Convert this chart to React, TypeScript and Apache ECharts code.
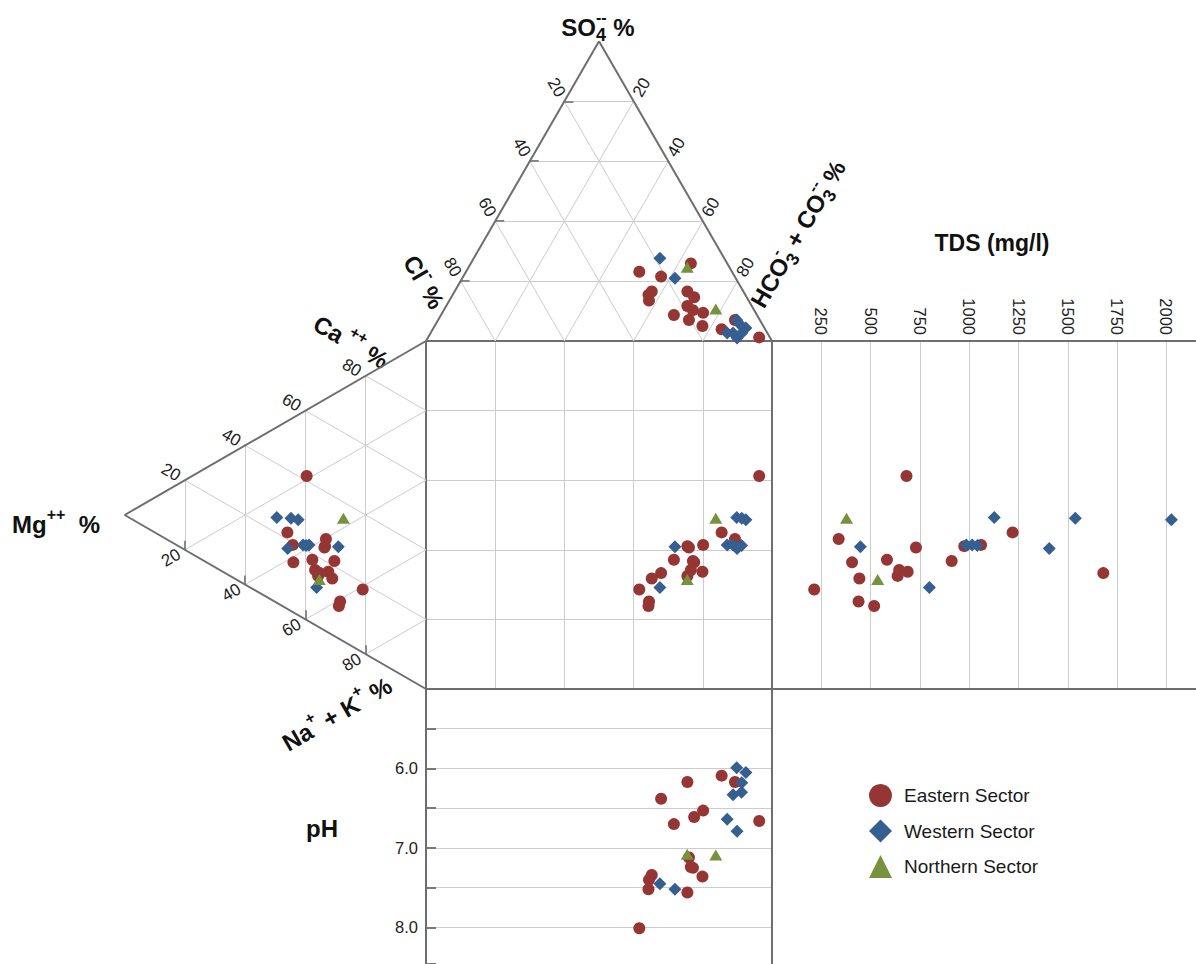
import React, { useEffect, useRef } from "react";
import * as echarts from "echarts";

const FONT = '"Liberation Sans", Arial, Helvetica, sans-serif';

// ---------- DATA ----------
const sectorNames = ["Eastern Sector", "Western Sector", "Northern Sector"];

// Anions (% meq): [Cl-, SO4--, HCO3- + CO3--]
const easternAnions = [
  [3.1, 1.2, 95.7], [12.6, 3.9, 83.5], [7.2, 7.0, 85.8], [15.2, 9.4, 75.4],
  [20.5, 7.0, 72.5], [16.2, 16.5, 67.3], [24.0, 8.7, 67.3], [17.7, 10.3, 72.0],
  [15.2, 14.6, 70.2], [10.5, 25.9, 63.6], [17.6, 5.0, 77.4], [21.3, 21.5, 57.2],
  [18.6, 11.7, 69.7], [26.5, 16.5, 57.0], [26.8, 23.1, 50.1], [28.8, 13.5, 57.7],
  [28.0, 15.4, 56.6],
];
// Cations (% meq): [Ca++, Mg++, Na+ + K+]
const easternCations = [
  [41.4, 39.6, 19.0], [22.0, 46.0, 32.0], [26.5, 33.2, 40.3], [19.3, 44.2, 36.5],
  [23.8, 33.7, 42.5], [24.3, 33.5, 42.2], [18.3, 37.7, 44.0], [21.6, 30.4, 48.0],
  [14.4, 44.0, 41.6], [15.8, 36.8, 47.4], [17.5, 32.4, 50.1], [15.7, 35.2, 49.1],
  [14.6, 35.8, 49.6], [16.2, 31.1, 52.7], [18.1, 21.0, 60.9], [10.9, 28.5, 60.6],
  [9.4, 28.9, 61.7],
];
const easternTDS = [682, 1220, 338, 1060, 730, 975, 583, 911, 406, 645, 688, 1680, 637, 443, 214, 439, 518];
const easternPH = [6.66, 6.09, 6.17, 6.53, 7.12, 6.17, 6.7, 7.25, 6.61, 7.24, 7.36, 6.38, 7.56, 7.34, 8.01, 7.4, 7.52];

const westernAnions = [
  [18.6, 27.6, 53.8], [17.6, 20.9, 61.5], [11.6, 2.7, 85.7], [9.9, 2.7, 87.4],
  [9.6, 1.0, 89.4], [6.3, 5.0, 88.7], [6.7, 7.0, 86.3], [7.4, 2.7, 89.9], [5.4, 4.3, 90.3],
];
const westernCations = [
  [11.0, 36.3, 52.7], [26.3, 29.1, 44.6], [21.0, 40.8, 38.2], [22.0, 38.8, 39.2],
  [17.4, 45.9, 36.7], [21.3, 39.8, 38.9], [24.5, 49.5, 26.0], [26.7, 44.8, 28.5], [27.4, 42.4, 30.2],
];
const westernTDS = [798, 448, 985, 1015, 1406, 1041, 1127, 1538, 2025];
const westernPH = [7.45, 7.52, 6.64, 6.33, 6.79, 6.3, 5.99, 6.18, 6.05];

const northernAnions = [[10.9, 10.7, 78.4], [12.2, 24.6, 63.2]];
const northernCations = [[35.4, 27.4, 37.2], [13.8, 35.4, 50.8]];
const northernTDS = [378, 536];
const northernPH = [7.09, 7.08];

const triTicks = [20, 40, 60, 80];
const tdsStep = 250;
const phStep = 0.5;
const phLabelled = [6, 7, 8];

// ---------- STYLE / LAYOUT ----------
const COLORS = ["#963634", "#365F91", "#76923C"];
const SYMBOLS = ["circle", "diamond", "triangle"];
const SIZES: any[] = [12, 13, [13, 11]];
const BORDER = "#6e6e6e";
const GRIDC = "#cccccc";
const TXT = "#111111";

const PAGE_W = 1196, PAGE_H = 964;
const SQ_L = 426, SQ_T = 341, SQ_W = 346, SQ_H = 348;
const TOP_H = (SQ_W * Math.sqrt(3)) / 2;
const LEFT_W = (SQ_H * Math.sqrt(3)) / 2;
const TDS_MAX = 2150;
const PH_MIN = 5, PH_MAX = 8.46;

const topPx = (u: number, s: number) => [SQ_L + (u / 100) * SQ_W, SQ_T - (s / 100) * TOP_H];
const leftPx = (mg: number, v: number) => [SQ_L - (mg / 100) * LEFT_W, SQ_T + (v / 100) * SQ_H];

let ctx: CanvasRenderingContext2D | null = null;
function textWidth(t: string, size: number, bold = true) {
  if (!ctx) ctx = document.createElement("canvas").getContext("2d");
  if (!ctx) return t.length * size * 0.6;
  ctx.font = `${bold ? "bold " : ""}${size}px ${FONT}`;
  return ctx.measureText(t).width;
}

type Part = { t: string; size: number; dy: number; stack?: boolean };
function composite(cx: number, cy: number, rot: number, parts: Part[]) {
  let x = 0, prevX = 0, prevW = 0;
  const items: any[] = [];
  for (const p of parts) {
    const w = textWidth(p.t, p.size);
    let px: number;
    if (p.stack) {
      px = prevX;
      const adv = Math.max(prevW, w);
      x = prevX + adv;
      prevW = adv;
    } else {
      px = x;
      prevX = x;
      prevW = w;
      x += w;
    }
    items.push({
      type: "text",
      x: px,
      y: p.dy,
      style: {
        text: p.t, fontSize: p.size, fontWeight: "bold", fontFamily: FONT, fill: TXT,
        align: "left", verticalAlign: "middle", textAlign: "left", textVerticalAlign: "middle",
      },
    });
  }
  items.forEach((it) => (it.x -= x / 2));
  return { type: "group", x: cx, y: cy, rotation: rot, children: items, z: 10, silent: true };
}

function tickText(x: number, y: number, rot: number, t: string) {
  return {
    type: "text", x, y, rotation: rot, z: 10, silent: true,
    style: {
      text: t, fontSize: 17, fontFamily: FONT, fill: "#222",
      align: "center", verticalAlign: "middle", textAlign: "center", textVerticalAlign: "middle",
    },
  };
}

function hline(x1: number, x2: number, y: number) {
  return { type: "line", z: 1, silent: true, shape: { x1, y1: y, x2, y2: y }, style: { stroke: BORDER, lineWidth: 2 } };
}
function vline(x: number, y1: number, y2: number) {
  return { type: "line", z: 1, silent: true, shape: { x1: x, y1, x2: x, y2 }, style: { stroke: BORDER, lineWidth: 2 } };
}

function buildOption() {
  const sectors = [
    { a: easternAnions, c: easternCations, tds: easternTDS, ph: easternPH },
    { a: westernAnions, c: westernCations, tds: westernTDS, ph: westernPH },
    { a: northernAnions, c: northernCations, tds: northernTDS, ph: northernPH },
  ];
  const uOf = (a: number[]) => a[2] + a[1] / 2; // anion projection
  const vOf = (c: number[]) => c[2] + c[1] / 2; // cation projection

  const series: any[] = [];

  // triangle grid lines, outlines and edge ticks
  const topGridL: any[] = [], leftGridL: any[] = [], topTicksL: any[] = [], leftTicksL: any[] = [];
  triTicks.forEach((k) => {
    topGridL.push({ coords: [[k / 2, k], [100 - k / 2, k]] });
    topGridL.push({ coords: [[k, 0], [(100 + k) / 2, 100 - k]] });
    topGridL.push({ coords: [[100 - k, 0], [(100 - k) / 2, 100 - k]] });
    leftGridL.push({ coords: [[k, k / 2], [k, 100 - k / 2]] });
    leftGridL.push({ coords: [[0, k], [100 - k, (100 + k) / 2]] });
    leftGridL.push({ coords: [[0, 100 - k], [100 - k, (100 - k) / 2]] });
    topTicksL.push({ coords: [[k / 2, k], [k / 2 + 2.6, k]] });
    leftTicksL.push({ coords: [[k, 100 - k / 2], [k, 100 - k / 2 - 2.6]] });
  });
  const linesBase = { type: "lines", coordinateSystem: "cartesian2d", silent: true, polyline: false };
  series.push({ ...linesBase, xAxisIndex: 1, yAxisIndex: 1, z: 1, data: topGridL, lineStyle: { color: GRIDC, width: 1, opacity: 1 } });
  series.push({ ...linesBase, xAxisIndex: 2, yAxisIndex: 2, z: 1, data: leftGridL, lineStyle: { color: GRIDC, width: 1, opacity: 1 } });
  series.push({ ...linesBase, xAxisIndex: 1, yAxisIndex: 1, z: 2, data: topTicksL, lineStyle: { color: "#888", width: 2, opacity: 1 } });
  series.push({ ...linesBase, xAxisIndex: 2, yAxisIndex: 2, z: 2, data: leftTicksL, lineStyle: { color: "#888", width: 2, opacity: 1 } });
  series.push({
    ...linesBase, xAxisIndex: 1, yAxisIndex: 1, z: 2,
    data: [{ coords: [[0, 0], [50, 100]] }, { coords: [[50, 100], [100, 0]] }],
    lineStyle: { color: BORDER, width: 2, opacity: 1 },
  });
  series.push({
    ...linesBase, xAxisIndex: 2, yAxisIndex: 2, z: 2,
    data: [{ coords: [[0, 0], [100, 50]] }, { coords: [[100, 50], [0, 100]] }],
    lineStyle: { color: BORDER, width: 2, opacity: 1 },
  });

  sectors.forEach((s, i) => {
    const base = {
      type: "scatter", name: sectorNames[i], symbol: SYMBOLS[i], symbolSize: SIZES[i],
      itemStyle: { color: COLORS[i], opacity: 1 }, z: 5 + i, silent: true,
    };
    series.push({ ...base, xAxisIndex: 1, yAxisIndex: 1, data: s.a.map((a) => [uOf(a), a[1]]) });
    series.push({ ...base, xAxisIndex: 2, yAxisIndex: 2, data: s.c.map((c) => [c[1], vOf(c)]) });
    series.push({ ...base, xAxisIndex: 0, yAxisIndex: 0, data: s.a.map((a, j) => [uOf(a), vOf(s.c[j])]) });
    series.push({ ...base, xAxisIndex: 3, yAxisIndex: 3, data: s.tds.map((t, j) => [t, vOf(s.c[j])]) });
    series.push({ ...base, xAxisIndex: 4, yAxisIndex: 4, data: s.ph.map((p, j) => [uOf(s.a[j]), p]) });
  });

  const hidden = { type: "value", show: false, min: 0, max: 100 };
  const split = { show: true, lineStyle: { color: GRIDC, width: 1 } };
  const pctAxis = {
    type: "value", min: 0, max: 100, interval: 20,
    axisLine: { show: false }, axisTick: { show: false }, axisLabel: { show: false }, splitLine: split,
  };

  const graphic: any[] = [];
  // panel borders
  graphic.push(hline(SQ_L, PAGE_W, SQ_T));
  graphic.push(hline(SQ_L, PAGE_W, SQ_T + SQ_H));
  graphic.push(vline(SQ_L, SQ_T, PAGE_H));
  graphic.push(vline(SQ_L + SQ_W, SQ_T, PAGE_H));

  // triangle tick labels
  const d = 16;
  triTicks.forEach((k) => {
    let p = topPx((100 - k) / 2, 100 - k);
    graphic.push(tickText(p[0] - 0.5 * d, p[1] - 0.866 * d, -Math.PI / 3, String(k)));
    p = topPx((100 + k) / 2, 100 - k);
    graphic.push(tickText(p[0] + 0.5 * d, p[1] - 0.866 * d, Math.PI / 3, String(k)));
    p = leftPx(100 - k, (100 - k) / 2);
    graphic.push(tickText(p[0] - 0.866 * d, p[1] - 0.5 * d, -Math.PI / 6, String(k)));
    p = leftPx(100 - k, (100 + k) / 2);
    graphic.push(tickText(p[0] - 0.866 * d, p[1] + 0.5 * d, Math.PI / 6, String(k)));
  });

  // titles
  const B = 24, SUP = 16, SUB = 18;
  graphic.push(composite(598, 27, 0, [
    { t: "SO", size: B, dy: 0 }, { t: "4", size: SUB, dy: 8 }, { t: "--", size: SUP, dy: -10, stack: true }, { t: " %", size: B, dy: 0 },
  ]));
  graphic.push(composite(424, 282, -Math.PI / 3, [
    { t: "Cl", size: B, dy: 0 }, { t: "-", size: SUP, dy: -10 }, { t: " %", size: B, dy: 0 },
  ]));
  graphic.push(composite(798, 234, Math.PI / 3, [
    { t: "HCO", size: B, dy: 0 }, { t: "3", size: SUB, dy: 8 }, { t: "-", size: SUP, dy: -10, stack: true },
    { t: " + CO", size: B, dy: 0 }, { t: "3", size: SUB, dy: 8 }, { t: "--", size: SUP, dy: -10, stack: true },
    { t: " %", size: B, dy: 0 },
  ]));
  graphic.push(composite(351, 342, -Math.PI / 6, [
    { t: "Ca", size: B, dy: 0 }, { t: " ++", size: SUP, dy: -10 }, { t: " %", size: B, dy: 0 },
  ]));
  graphic.push(composite(337, 714, Math.PI / 6, [
    { t: "Na", size: B, dy: 0 }, { t: "+", size: SUP, dy: -10 }, { t: " + K", size: B, dy: 0 },
    { t: "+", size: SUP, dy: -10 }, { t: " %", size: B, dy: 0 },
  ]));
  graphic.push(composite(56, 524, 0, [
    { t: "Mg", size: B, dy: 0 }, { t: "++", size: SUP, dy: -10 }, { t: "  %", size: B, dy: 0 },
  ]));
  graphic.push(composite(992, 243, 0, [{ t: "TDS (mg/l)", size: 23, dy: 0 }]));
  graphic.push(composite(322, 828, 0, [{ t: "pH", size: 24, dy: 0 }]));

  return {
    animation: false,
    backgroundColor: "#ffffff",
    textStyle: { fontFamily: FONT },
    legend: {
      data: sectorNames,
      orient: "vertical",
      left: 864,
      top: 779,
      itemWidth: 23,
      itemHeight: 23,
      itemGap: 12.5,
      selectedMode: false,
      textStyle: { fontSize: 19, color: "#1a1a1a", fontFamily: FONT, padding: [0, 0, 0, 7] },
    },
    grid: [
      { left: SQ_L, top: SQ_T, width: SQ_W, height: SQ_H },
      { left: SQ_L, top: SQ_T - TOP_H, width: SQ_W, height: TOP_H },
      { left: SQ_L - LEFT_W, top: SQ_T, width: LEFT_W, height: SQ_H },
      { left: SQ_L + SQ_W, top: SQ_T, width: PAGE_W - SQ_L - SQ_W, height: SQ_H },
      { left: SQ_L, top: SQ_T + SQ_H, width: SQ_W, height: PAGE_H - SQ_T - SQ_H },
    ],
    xAxis: [
      { ...pctAxis, gridIndex: 0 },
      { ...hidden, gridIndex: 1 },
      { ...hidden, gridIndex: 2, inverse: true },
      {
        type: "value", gridIndex: 3, position: "top", min: 0, max: TDS_MAX, interval: tdsStep,
        axisLine: { show: false }, axisTick: { show: false }, splitLine: split,
        axisLabel: {
          rotate: -90, margin: 6, fontSize: 16.5, color: "#222", fontFamily: FONT,
          formatter: (v: number) => (v > 0 && v % tdsStep === 0 ? String(v) : ""),
        },
      },
      { ...hidden, gridIndex: 4 },
    ],
    yAxis: [
      { ...pctAxis, gridIndex: 0, inverse: true },
      { ...hidden, gridIndex: 1 },
      { ...hidden, gridIndex: 2, inverse: true },
      { ...hidden, gridIndex: 3, inverse: true },
      {
        type: "value", gridIndex: 4, min: PH_MIN, max: PH_MAX, interval: phStep, inverse: true,
        axisLine: { show: true, lineStyle: { color: BORDER, width: 2 } },
        axisTick: { show: true, inside: true, length: 10, lineStyle: { color: "#777", width: 2 } },
        splitLine: split,
        axisLabel: {
          fontSize: 16.5, color: "#222", fontFamily: FONT, margin: 8,
          formatter: (v: number) => (phLabelled.includes(Math.round(v * 100) / 100) ? v.toFixed(1) : ""),
        },
      },
    ],
    series,
    graphic,
  };
}

export default function App() {
  const ref = useRef<HTMLDivElement>(null);
  useEffect(() => {
    if (!ref.current) return;
    const chart = echarts.init(ref.current, undefined, { renderer: "svg" });
    chart.setOption(buildOption() as any);
    return () => chart.dispose();
  }, []);
  return (
    <div
      ref={ref}
      style={{ position: "absolute", left: 0, top: 0, width: PAGE_W, height: PAGE_H }}
    />
  );
}
